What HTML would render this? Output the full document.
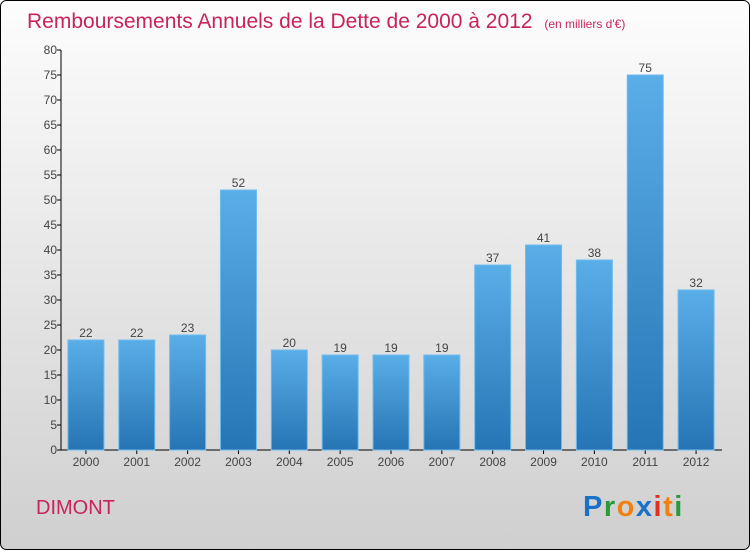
<!DOCTYPE html>
<html><head><meta charset="utf-8"><style>
html,body{margin:0;padding:0;}
body{width:750px;height:550px;overflow:hidden;font-family:"Liberation Sans","DejaVu Sans",sans-serif;}
</style></head><body>
<svg id="chart" width="750" height="550" xmlns="http://www.w3.org/2000/svg">
<defs>
<linearGradient id="bg" x1="0" y1="0" x2="0" y2="1"><stop offset="0" stop-color="#fdfdfd"/><stop offset="1" stop-color="#cfcfcf"/></linearGradient>
<linearGradient id="bar" x1="0" y1="0" x2="0" y2="1"><stop offset="0" stop-color="#5aaee8"/><stop offset="1" stop-color="#2674b4"/></linearGradient>
</defs>
<rect x="0.5" y="0.5" width="749" height="549" rx="6" fill="url(#bg)" stroke="#000"/>
<text x="27" y="28" font-size="21" font-weight="normal" fill="#c8245c">Remboursements Annuels de la Dette de 2000 à 2012 <tspan font-size="12" dx="6">(en milliers d'€)</tspan></text>
<g id="axes"></g>
<g id="bars"></g>
<text x="36" y="514" font-size="20" fill="#c8245c">DIMONT</text>
<text x="583" y="516" font-size="29" font-weight="bold" letter-spacing="1.5"><tspan fill="#1a72c8">P</tspan><tspan fill="#2a9a3a">r</tspan><tspan fill="#f08010">o</tspan><tspan fill="#1a72c8">x</tspan><tspan fill="#e03020">i</tspan><tspan fill="#f08010">t</tspan><tspan fill="#2a9a3a">i</tspan></text>
</svg>
<script>
const categories=["2000","2001","2002","2003","2004","2005","2006","2007","2008","2009","2010","2011","2012"];
const values=[22,22,23,52,20,19,19,19,37,41,38,75,32];
const yTicks=[0,5,10,15,20,25,30,35,40,45,50,55,60,65,70,75,80];
const NS="http://www.w3.org/2000/svg";
const x0=61,x1=722,yTop=50,yBot=450,yMax=80;
const y=v=>yBot-(v/yMax)*(yBot-yTop);
const step=(x1-x0)/categories.length;
const xc=i=>x0+step*(i+0.5)-0.5;
function mk(t,a,p){const e=document.createElementNS(NS,t);for(const k in a)e.setAttribute(k,a[k]);p.appendChild(e);return e;}
const ax=document.getElementById('axes'),bg=document.getElementById('bars');
let l=mk('line',{x1:x0,y1:yTop,x2:x0,y2:yBot,stroke:'#000'},ax);


l=mk('line',{x1:x0,y1:yBot,x2:x1,y2:yBot,stroke:'#000'},ax);


yTicks.forEach(v=>{
  mk('line',{x1:x0-4,y1:y(v),x2:x0,y2:y(v),stroke:'#000'},ax);
  const t=mk('text',{x:x0-4,y:y(v)+4,'font-size':12,'text-anchor':'end',fill:'#444'},ax);
  t.textContent=v;
  
  
});
categories.forEach((c,i)=>{
  const cx=xc(i);
  mk('line',{x1:cx,y1:yBot,x2:cx,y2:yBot+4,stroke:'#000'},ax);
  const t=mk('text',{x:cx,y:yBot+16,'font-size':12,'text-anchor':'middle',fill:'#444'},ax);
  t.textContent=c;
  
  
  const r=mk('rect',{x:cx-18,y:y(values[i]),width:36,height:yBot-y(values[i]),fill:'url(#bar)',stroke:'#6cbcf0','stroke-width':1},bg);
  
  
  const vl=mk('text',{x:cx,y:y(values[i])-3,'font-size':12,'text-anchor':'middle',fill:'#444'},bg);
  vl.textContent=values[i];
  
  
});
</script>
</body></html>
